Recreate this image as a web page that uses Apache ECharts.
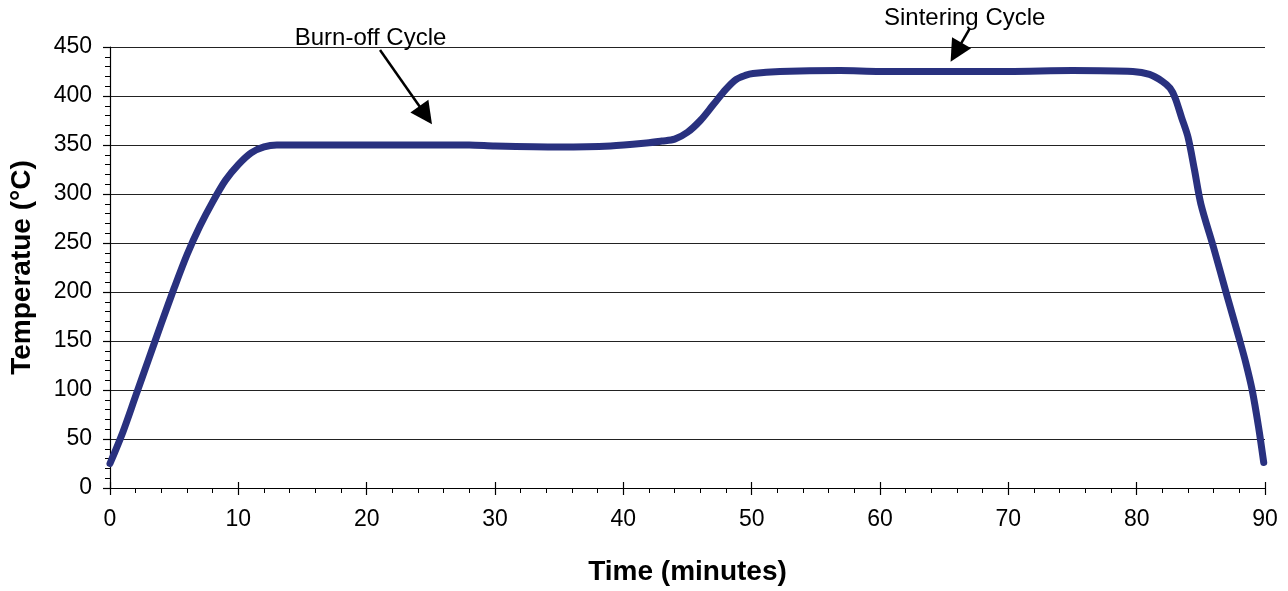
<!DOCTYPE html>
<html><head><meta charset="utf-8">
<script src="https://cdn.jsdelivr.net/npm/echarts@6/dist/echarts.min.js"></script>
<style>html,body{margin:0;padding:0;background:#fff}#c{width:1288px;height:591px}</style>
</head><body><div id="c"></div>
<script>
// Time (minutes)
const timeMin = [0, 1, 2, 3, 4, 5, 6, 7, 8, 9, 10, 11, 12, 13, 20, 28, 30, 35, 39, 41.8, 43, 44, 45, 46, 47, 48, 48.8, 49.5, 50.1, 52.2, 56.9, 60, 65, 70, 75, 79.7, 81, 82, 82.6, 83, 83.5, 84, 84.5, 85, 86, 87, 88, 88.5, 89, 89.5, 89.9];
// Temperature (°C)
const tempC = [25, 57, 94, 131, 168, 204, 238, 267, 292, 314, 330, 342, 348, 350, 350, 350, 349, 348, 349, 352, 354, 356, 363, 375, 391, 407, 417, 421, 423, 425, 426, 425, 425, 425, 426, 425, 422, 415, 408, 398, 378, 358, 325, 290, 245, 198, 152, 128, 100, 62, 26];
const xTicks = [0, 10, 20, 30, 40, 50, 60, 70, 80, 90];
const yTicks = [0, 50, 100, 150, 200, 250, 300, 350, 400, 450];
// Annotations: label, label anchor (data coords), arrow start, arrow tip
const annoLabels = ['Burn-off Cycle', 'Sintering Cycle'];
const annoText = [[20.3, 459], [66.6, 479]];
const annoFrom = [[21.04, 447], [67.0, 469]];
const annoTo = [[25.09, 371.3], [65.5, 434.9]];

const chart = echarts.init(document.getElementById('c'));
const FONT = '"Liberation Sans", Arial, sans-serif';
const option = {
  animation: false,
  grid: { left: 110, right: 23, top: 47, bottom: 98, containLabel: false },
  xAxis: [{
    type: 'value', min: 0, max: 90, interval: 10, position: 'bottom',
    name: 'Time (minutes)', nameLocation: 'middle', nameGap: 70,
    nameTextStyle: { fontFamily: FONT, fontSize: 28, fontWeight: 'bold', color: '#000' },
    axisLine: { show: true, onZero: false, lineStyle: { color: '#000', width: 1.2 } },
    axisTick: { show: true, length: 7, lineStyle: { color: '#000', width: 1.2 } },
    minorTick: { show: true, splitNumber: 5, length: 5, lineStyle: { color: '#000', width: 1 } },
    axisLabel: { fontFamily: FONT, fontSize: 23, color: '#000', margin: 20,
      formatter: v => xTicks.includes(v) ? String(v) : '' },
    splitLine: { show: false }
  }, {
    type: 'value', min: 0, max: 90, interval: 10, position: 'bottom',
    axisLine: { show: false },
    axisTick: { show: true, inside: true, length: 6, lineStyle: { color: '#000', width: 1.2 } },
    axisLabel: { show: false }, splitLine: { show: false }
  }],
  yAxis: {
    type: 'value', min: 0, max: 450, interval: 50,
    name: 'Temperatue (°C)', nameLocation: 'middle', nameGap: 74,
    nameTextStyle: { fontFamily: FONT, fontSize: 28, fontWeight: 'bold', color: '#000' },
    axisLine: { show: true, lineStyle: { color: '#000', width: 1.2 } },
    axisTick: { show: true, length: 7, lineStyle: { color: '#000', width: 1.2 } },
    minorTick: { show: true, splitNumber: 5, length: 5, lineStyle: { color: '#000', width: 1 } },
    axisLabel: { fontFamily: FONT, fontSize: 23, color: '#000', margin: 18,
      formatter: v => yTicks.includes(v) ? String(v) : '' },
    splitLine: { show: true, lineStyle: { color: '#222', width: 1.2 } }
  },
  series: [{
    type: 'line', xAxisIndex: 0,
    data: timeMin.map((t, i) => [t, tempC[i]]),
    showSymbol: false, smooth: 0.3, clip: false,
    lineStyle: { color: '#29317f', width: 7, cap: 'round', join: 'round' }
  }]
};
chart.setOption(option);

// annotations placed via the chart's own coordinate conversion
const px = p => chart.convertToPixel({ gridIndex: 0 }, p);
const graphics = [];
annoLabels.forEach((lab, i) => {
  const tp = px(annoText[i]);
  graphics.push({ type: 'text', x: tp[0], y: tp[1],
    style: { text: lab, font: '24px ' + FONT, fill: '#000', align: 'center', verticalAlign: 'middle' } });
  const a = px(annoFrom[i]), b = px(annoTo[i]);
  const dx = b[0] - a[0], dy = b[1] - a[1], L = Math.hypot(dx, dy);
  const ux = dx / L, uy = dy / L;
  const headLen = 22, headW = 11;
  const bx = b[0] - ux * headLen, by = b[1] - uy * headLen;
  graphics.push({ type: 'line', shape: { x1: a[0], y1: a[1], x2: bx + ux * 2, y2: by + uy * 2 },
    style: { stroke: '#000', lineWidth: 2.5 } });
  graphics.push({ type: 'polygon', shape: { points: [
      [b[0], b[1]], [bx - uy * headW, by + ux * headW], [bx + uy * headW, by - ux * headW]] },
    style: { fill: '#000' } });
});
chart.setOption({ graphic: graphics });
</script></body></html>
